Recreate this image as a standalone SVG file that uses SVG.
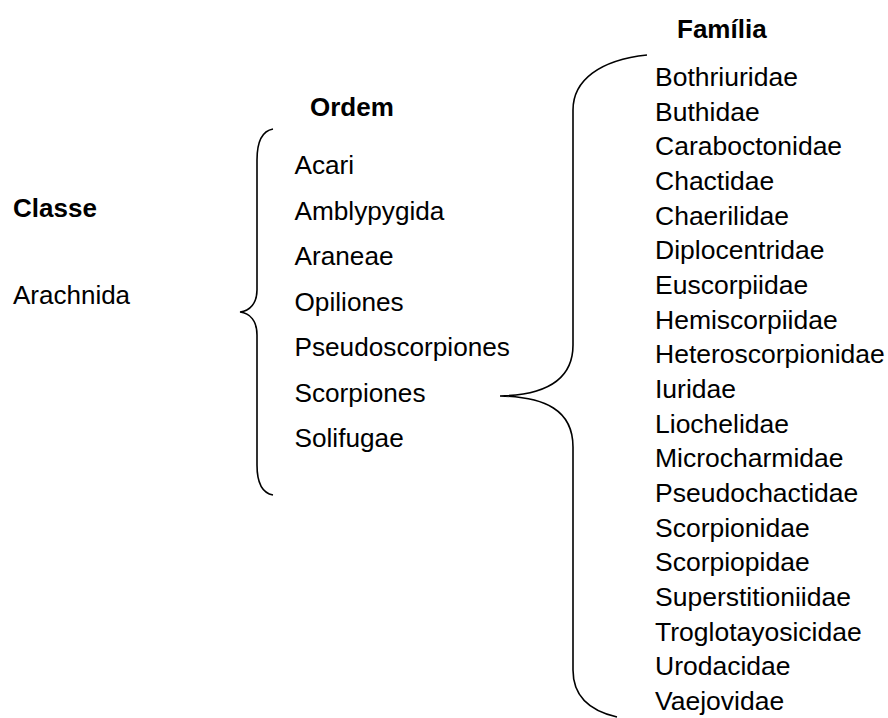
<svg xmlns="http://www.w3.org/2000/svg" width="888" height="718" viewBox="0 0 888 718">
<style>
text{font-family:"Liberation Sans",Arial,sans-serif;font-size:26px;fill:#000}
.h{font-weight:bold}
.o{font-size:26.2px}
.f{font-size:26.5px}
.brace{fill:none;stroke:#000;stroke-width:1.6}
</style>
<rect width="888" height="718" fill="#fff"/>
<g id="classe">
<text class="h" x="13" y="217">Classe</text>
<text x="13" y="304">Arachnida</text>
</g>
<g id="ordem">
<text class="h" x="310" y="116">Ordem</text>
<g class="o">
<text class="o" x="294.5" y="174">Acari</text>
<text class="o" x="294.5" y="219.5">Amblypygida</text>
<text class="o" x="294.5" y="265">Araneae</text>
<text class="o" x="294.5" y="310.5">Opiliones</text>
<text class="o" x="294.5" y="356">Pseudoscorpiones</text>
<text class="o" x="294.5" y="401.5">Scorpiones</text>
<text class="o" x="294.5" y="447">Solifugae</text>
</g>
</g>
<g id="familia">
<text class="h" x="677" y="38">Família</text>
<text class="f" x="655" y="86">Bothriuridae</text>
<text class="f" x="655" y="120.7">Buthidae</text>
<text class="f" x="655" y="155.3">Caraboctonidae</text>
<text class="f" x="655" y="190">Chactidae</text>
<text class="f" x="655" y="224.7">Chaerilidae</text>
<text class="f" x="655" y="259.3">Diplocentridae</text>
<text class="f" x="655" y="294">Euscorpiidae</text>
<text class="f" x="655" y="328.7">Hemiscorpiidae</text>
<text class="f" x="655" y="363.3">Heteroscorpionidae</text>
<text class="f" x="655" y="398">Iuridae</text>
<text class="f" x="655" y="432.7">Liochelidae</text>
<text class="f" x="655" y="467.3">Microcharmidae</text>
<text class="f" x="655" y="502">Pseudochactidae</text>
<text class="f" x="655" y="536.7">Scorpionidae</text>
<text class="f" x="655" y="571.3">Scorpiopidae</text>
<text class="f" x="655" y="606">Superstitioniidae</text>
<text class="f" x="655" y="640.7">Troglotayosicidae</text>
<text class="f" x="655" y="675.3">Urodacidae</text>
<text class="f" x="655" y="710">Vaejovidae</text>
</g>
<g id="connectors">
<path class="brace" d="M273,129 C262,131 257,142 257,160 L257,290 C257,303 250,311 240,312 C250,313 257,321 257,335 L257,465 C257,483 262,493 273,495"/>
<path class="brace" d="M647,55 C600,60 573,80 573,110 L573,345 C573,380 545,395 500,396 C545,397 573,410 573,447 L573,670 C573,700 595,712 617,717"/>
</g>
</svg>
